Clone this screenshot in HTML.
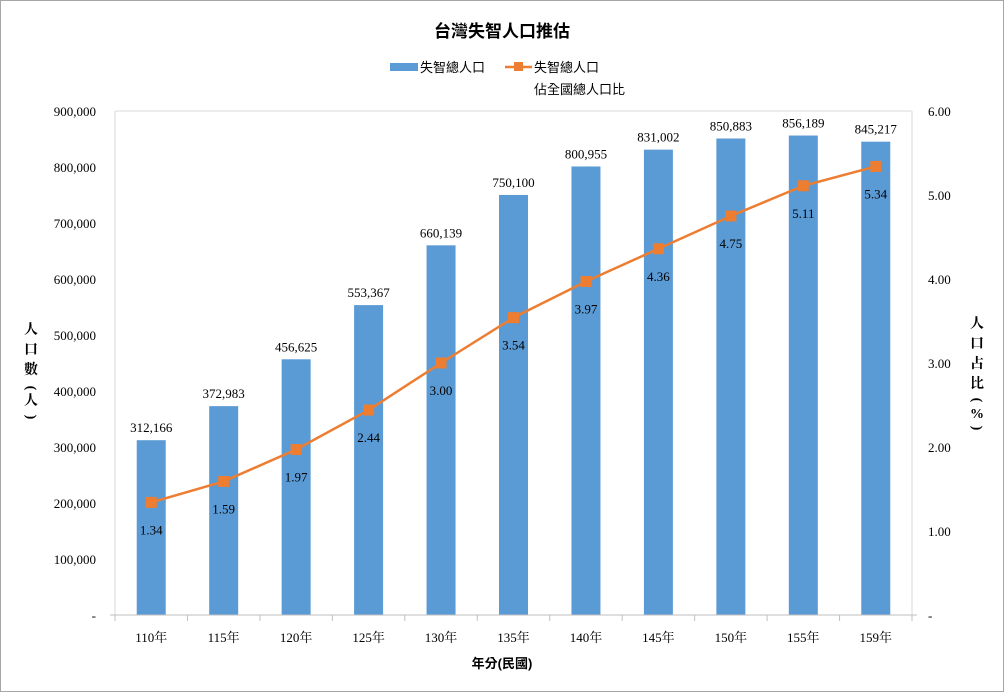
<!DOCTYPE html>
<html><head><meta charset="utf-8"><style>
html,body{margin:0;padding:0;background:#fff}
svg{display:block}
text{font-family:"Liberation Serif","Noto Serif CJK SC","Noto Sans CJK TC",serif;fill:#000}
.c{font-family:"Liberation Sans","Noto Sans CJK TC",sans-serif}
</style></head><body>
<svg width="1005" height="693" viewBox="0 0 1005 693" xmlns="http://www.w3.org/2000/svg">
<rect x="0.5" y="0.5" width="1003" height="691" fill="#fff" stroke="#a6a6a6"/>
<text class="c" x="502" y="37" font-size="17" text-anchor="middle" font-weight="bold">台灣失智人口推估</text>
<rect x="390" y="63" width="28" height="8" fill="#5b9bd5"/>
<text class="c" x="420" y="72" font-size="13">失智總人口</text>
<line x1="505" y1="67" x2="532" y2="67" stroke="#ed7d31" stroke-width="2.5"/>
<rect x="514" y="62" width="9" height="9" fill="#ed7d31"/>
<text class="c" x="534" y="72" font-size="13">失智總人口</text>
<text class="c" x="534" y="94" font-size="13">佔全國總人口比</text>
<g stroke="#d9d9d9" stroke-width="1">
<line x1="115" y1="111" x2="912" y2="111"/>
<line x1="115" y1="111" x2="115" y2="615"/>
<line x1="912" y1="111" x2="912" y2="615"/>
</g>
<g id="bars" fill="#5b9bd5"></g>
<g stroke="#bfbfbf" stroke-width="1" id="ticks"></g>
<line x1="110" y1="615" x2="917" y2="615" stroke="#bfbfbf"/>
<g id="yl" font-size="13" text-anchor="end"></g>
<g id="yr" font-size="13"></g>
<g id="xl" font-size="13" text-anchor="middle"></g>
<polyline id="ln" fill="none" stroke="#ed7d31" stroke-width="2.5"/>
<g id="mk" fill="#ed7d31"></g>
<g id="bl" font-size="13" text-anchor="middle"></g>
<g id="pl" font-size="13" text-anchor="middle"></g>
<text class="c" x="502" y="668" font-size="13" text-anchor="middle" font-weight="bold">年分(民國)</text>
<g class="c" font-size="14" font-weight="bold" text-anchor="middle">
<text x="31" y="334">人</text><text x="31" y="354">口</text><text x="31" y="374">數</text>
<text x="31" y="392" transform="rotate(90 31 388)">(</text><text x="31" y="405">人</text><text x="31" y="421" transform="rotate(90 31 417)">)</text>
<text x="977" y="328">人</text><text x="977" y="348">口</text><text x="977" y="368">占</text><text x="977" y="388">比</text>
<text x="977" y="404" transform="rotate(90 977 400)">(</text><text x="977" y="418">%</text><text x="977" y="432" transform="rotate(90 977 428)">)</text>
</g>
</svg>
<script>
var NS="http://www.w3.org/2000/svg";
function el(p,t,a,txt){var e=document.createElementNS(NS,t);for(var k in a)e.setAttribute(k,a[k]);if(txt!=null)e.textContent=txt;document.getElementById(p).appendChild(e);return e;}
var v=[312166,372983,456625,553367,660139,750100,800955,831002,850883,856189,845217];
var p=[1.34,1.59,1.97,2.44,3.00,3.54,3.97,4.36,4.75,5.11,5.34];
var yr=["110","115","120","125","130","135","140","145","150","155","159"];
var L=115,R=912,B=615,T=111,w=(R-L)/11,pts=[];
function f(n){return n.toLocaleString("en-US");}
for(var i=0;i<11;i++){
 var cx=L+w*(i+0.5),h=v[i]/900000*(B-T),py=B-p[i]/6*(B-T);
 el("bars","rect",{x:cx-14.5,y:B-h,width:29,height:h});
 el("bl","text",{x:cx,y:B-h-8},f(v[i]));
 el("xl","text",{x:cx,y:642},yr[i]+"年");
 pts.push(cx+","+py);
 el("mk","rect",{x:cx-5.5,y:py-5.5,width:11,height:11});
 el("pl","text",{x:cx,y:py+32},p[i].toFixed(2));
}
for(var i=0;i<=11;i++){var x=L+w*i;el("ticks","line",{x1:x,y1:615,x2:x,y2:621});}
document.getElementById("ln").setAttribute("points",pts.join(" "));
for(var k=0;k<=9;k++){var y=B-k*(B-T)/9;el("yl","text",{x:96,y:y+5},k==0?"-":f(k*100000));}
for(var k=0;k<=6;k++){var y=B-k*(B-T)/6;el("yr","text",{x:928,y:y+5},k==0?"-":k.toFixed(2));}
</script>
</body></html>
